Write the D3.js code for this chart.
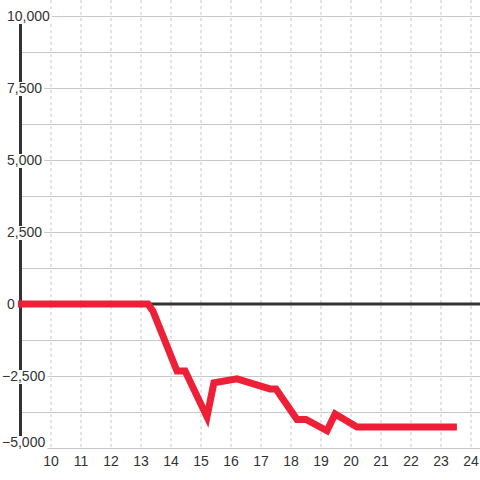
<!DOCTYPE html>
<html>
<head>
<meta charset="utf-8">
<script src="https://cdnjs.cloudflare.com/ajax/libs/d3/7.8.5/d3.min.js"></script>
<style>
  body { margin: 0; background: #fff; }
  svg { display: block; font-family: "Liberation Sans", Arial, sans-serif; }
</style>
</head>
<body>
<svg width="480" height="480"></svg>
<script>
// values
var hours = [8.9, 13.23, 13.4, 14.2, 14.47, 15.2, 15.43, 16.2, 17.3, 17.5, 18.2, 18.5, 19.2, 19.47, 20.2, 23.53]
var balance = [0, 0, -250, -2326, -2326, -3920, -2740, -2600, -2950, -2950, -4010, -4010, -4400, -3820, -4270, -4270]
var xTicks = [10, 11, 12, 13, 14, 15, 16, 17, 18, 19, 20, 21, 22, 23, 24]
var yTicks = [-5000, -2500, 0, 2500, 5000, 7500, 10000]
var yGrid = [-5000, -3750, -2500, -1250, 0, 1250, 2500, 3750, 5000, 6250, 7500, 8750, 10000]

var svg = d3.select('svg')

var x = d3.scaleLinear().domain([9, 24.3]).range([21, 480])
var y = d3.scaleLinear().domain([-5000, 10000]).range([448, 16])

// dashed vertical grid
svg.append('g')
  .selectAll('line')
  .data(xTicks)
  .enter()
  .append('line')
    .attr('x1', d => x(d)).attr('x2', d => x(d))
    .attr('y1', 0).attr('y2', 448)
    .attr('stroke', '#c8c8c8')
    .attr('stroke-dasharray', '3,3')

// horizontal grid
svg.append('g')
  .selectAll('line')
  .data(yGrid)
  .enter()
  .append('line')
    .attr('x1', 20).attr('x2', 480)
    .attr('y1', d => Math.round(y(d)) + 0.5).attr('y2', d => Math.round(y(d)) + 0.5)
    .attr('stroke', '#c8c8c8')

// y axis line
svg.append('line')
  .attr('x1', 20.5).attr('x2', 20.5)
  .attr('y1', y(10000)).attr('y2', y(-5000))
  .attr('stroke', '#333')
  .attr('stroke-width', 3)

// zero line
svg.append('line')
  .attr('x1', 20).attr('x2', 480)
  .attr('y1', y(0)).attr('y2', y(0))
  .attr('stroke', '#333')
  .attr('stroke-width', 3)

// y labels with white backing
var yl = svg.append('g')
  .selectAll('g')
  .data(yTicks)
  .enter()
  .append('g')
    .attr('transform', d => `translate(7,${Math.min(y(d), 442)})`)

yl.append('rect')
yl.append('text')
  .attr('dx', d => d < 0 ? -5 : 0)
  .attr('dy', '0.35em')
  .attr('font-size', 14)
  .attr('fill', '#333')
  .text(d => d3.format(',')(d))

yl.each(function () {
  var g = d3.select(this)
  var b = g.select('text').node().getBBox()
  g.select('rect')
    .attr('x', b.x - 1).attr('y', -6)
    .attr('width', b.width + 3).attr('height', 14)
    .attr('fill', '#fff')
})

// x labels
svg.append('g')
  .selectAll('text')
  .data(xTicks)
  .enter()
  .append('text')
    .attr('x', d => x(d))
    .attr('y', 461)
    .attr('dy', '0.35em')
    .attr('text-anchor', 'middle')
    .attr('font-size', 14)
    .attr('fill', '#333')
    .text(d => d)

// the red line
var line = d3.line()
  .x((d, i) => x(hours[i]))
  .y(d => y(d))

svg.append('path')
  .datum(balance)
  .attr('d', line)
  .attr('fill', 'none')
  .attr('stroke', '#ed2038')
  .attr('stroke-width', 7)
  .attr('stroke-linejoin', 'miter')
</script>
</body>
</html>
